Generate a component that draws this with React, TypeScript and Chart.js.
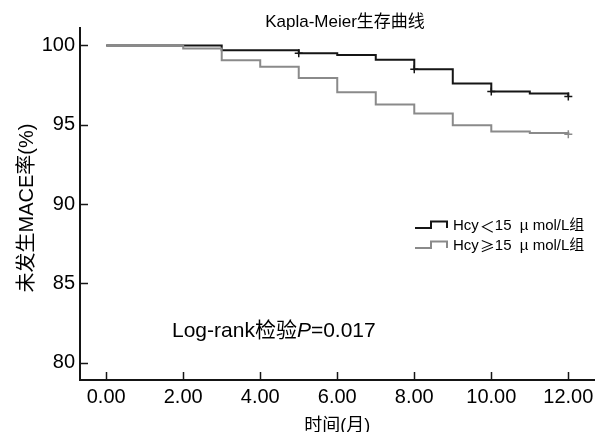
import React, { useEffect, useRef } from "react";
import { Chart, registerables } from "chart.js";

Chart.register(...registerables);

// ---- data ----
const titleText = "Kapla-Meier生存曲线";
const xTitle = "时间(月)";
const yTitle = "未发生MACE率(%)";
// legend pieces: [prefix, comparison symbol, suffix]
const groupPrefix = ["Hcy", "Hcy"];
const groupSymbol = ["＜", "≥"];
const groupSuffix = ["15  µ mol/L组", "15  µ mol/L组"];

const xTicks = [0, 2, 4, 6, 8, 10, 12];
const yTicks = [80, 85, 90, 95, 100];

// survival value holding from each time onward (step function)
const lowHcyTimes = [0, 3, 5, 6, 7, 8, 9, 10, 11, 12];
const lowHcySurvival = [100, 99.7, 99.5, 99.4, 99.1, 98.5, 97.6, 97.1, 96.97, 96.78];
const highHcyTimes = [0, 2, 3, 4, 5, 6, 7, 8, 9, 10, 11, 12];
const highHcySurvival = [100, 99.8, 99.07, 98.65, 97.95, 97.05, 96.27, 95.7, 94.96, 94.58, 94.47, 94.4];

const lowHcyCensorTimes = [5, 8, 10, 12];
const highHcyCensorTimes = [12];

const logRankPrefix = "Log-rank检验";
const logRankP = "P";
const logRankValue = "=0.017";

const FONT = '"Liberation Sans", "Noto Sans CJK SC", sans-serif';
const CJK = '"Noto Sans CJK SC", sans-serif';
const BLACK = "#151515";
const GRAY = "#8a8a8a";

function stepValue(times: number[], vals: number[], t: number) {
  let v = vals[0];
  for (let i = 0; i < times.length; i++) if (times[i] <= t) v = vals[i];
  return v;
}

const overlayPlugin = {
  id: "kmOverlay",
  afterDraw(chart: any) {
    const { ctx, chartArea } = chart;
    const xs = chart.scales.x;
    const ys = chart.scales.y;
    ctx.save();
    // inward tick marks
    ctx.strokeStyle = BLACK;
    ctx.lineWidth = 1.5;
    yTicks.forEach((v) => {
      const py = Math.round(ys.getPixelForValue(v)) + 0.5;
      ctx.beginPath();
      ctx.moveTo(chartArea.left, py);
      ctx.lineTo(chartArea.left + 8, py);
      ctx.stroke();
    });
    xTicks.forEach((v) => {
      const px = Math.round(xs.getPixelForValue(v)) + 0.5;
      ctx.beginPath();
      ctx.moveTo(px, chartArea.bottom);
      ctx.lineTo(px, chartArea.bottom - 8);
      ctx.stroke();
    });

    ctx.fillStyle = "#000";
    // title
    ctx.font = `17px ${FONT}`;
    ctx.textAlign = "center";
    ctx.textBaseline = "middle";
    ctx.fillText(titleText, 345, 22);

    // x axis title
    ctx.font = `18px ${FONT}`;
    ctx.fillText(xTitle, (chartArea.left + chartArea.right) / 2, 426);

    // y axis title
    ctx.save();
    ctx.translate(27, 208);
    ctx.rotate(-Math.PI / 2);
    ctx.font = `20px ${FONT}`;
    ctx.fillText(yTitle, 0, 0);
    ctx.restore();

    // log-rank annotation
    ctx.textAlign = "left";
    ctx.font = `21px ${FONT}`;
    let ax = 172;
    const ay = 331;
    ctx.fillText(logRankPrefix, ax, ay);
    ax += ctx.measureText(logRankPrefix).width;
    ctx.font = `italic 21px ${FONT}`;
    ctx.fillText(logRankP, ax, ay);
    ax += ctx.measureText(logRankP).width;
    ctx.font = `21px ${FONT}`;
    ctx.fillText(logRankValue, ax, ay);

    // legend
    const colors = [BLACK, GRAY];
    groupPrefix.forEach((pre, i) => {
      const base = 228 + i * 20;
      ctx.strokeStyle = colors[i];
      ctx.lineWidth = 2;
      ctx.beginPath();
      ctx.moveTo(415, base);
      ctx.lineTo(431, base);
      ctx.lineTo(431, base - 6.5);
      ctx.lineTo(447, base - 6.5);
      ctx.lineTo(447, base);
      ctx.stroke();
      ctx.fillStyle = "#000";
      let lx = 453;
      const ly = base - 2;
      ctx.font = `15px ${FONT}`;
      ctx.fillText(pre, lx, ly);
      lx += ctx.measureText(pre).width + 1;
      ctx.font = `15px ${CJK}`;
      ctx.fillText(groupSymbol[i], lx, ly);
      lx += ctx.measureText(groupSymbol[i]).width;
      ctx.font = `15px ${FONT}`;
      ctx.fillText(groupSuffix[i], lx, ly);
    });
    ctx.restore();
  },
};

export default function App() {
  const ref = useRef<HTMLCanvasElement | null>(null);
  useEffect(() => {
    if (!ref.current) return;
    const lowPts = lowHcyTimes.map((t, i) => ({ x: t, y: lowHcySurvival[i] }));
    const highPts = highHcyTimes.map((t, i) => ({ x: t, y: highHcySurvival[i] }));
    const lowCens = lowHcyCensorTimes.map((t) => ({ x: t, y: stepValue(lowHcyTimes, lowHcySurvival, t) }));
    const highCens = highHcyCensorTimes.map((t) => ({ x: t, y: stepValue(highHcyTimes, highHcySurvival, t) }));

    const chart = new Chart(ref.current, {
      type: "line",
      data: {
        datasets: [
          {
            label: "high",
            data: highPts,
            stepped: "before",
            borderColor: GRAY,
            borderWidth: 2,
            pointRadius: 0,
            fill: false,
            order: 0,
          },
          {
            label: "low",
            data: lowPts,
            stepped: "before",
            borderColor: BLACK,
            borderWidth: 2,
            pointRadius: 0,
            fill: false,
            order: 1,
          },
          {
            label: "censor-low",
            data: lowCens,
            showLine: false,
            pointStyle: "cross",
            pointRadius: 4,
            borderColor: BLACK,
            borderWidth: 1.5,
            order: 2,
          },
          {
            label: "censor-high",
            data: highCens,
            showLine: false,
            pointStyle: "cross",
            pointRadius: 4,
            borderColor: GRAY,
            borderWidth: 1.5,
            order: 2,
          },
        ],
      },
      options: {
        responsive: false,
        animation: false,
        events: [],
        layout: { padding: { top: 28, right: 1, left: 0, bottom: 0 } },
        plugins: {
          legend: { display: false },
          title: { display: false },
          tooltip: { enabled: false },
        },
        scales: {
          x: {
            type: "linear",
            min: -0.68,
            max: 12.68,
            afterFit: (s: any) => {
              s.height = 52;
            },
            afterBuildTicks: (s: any) => {
              s.ticks = xTicks.map((v) => ({ value: v }));
            },
            grid: { display: false, drawTicks: false },
            border: { display: true, color: BLACK, width: 2 },
            ticks: {
              padding: 5,
              color: "#000",
              font: { family: FONT, size: 20 },
              maxRotation: 0,
              callback: (v: any) => Number(v).toFixed(2),
            },
          },
          y: {
            type: "linear",
            min: 78.9,
            max: 101.1,
            afterFit: (s: any) => {
              s.width = 80;
            },
            afterBuildTicks: (s: any) => {
              s.ticks = yTicks.map((v) => ({ value: v }));
            },
            grid: { display: false, drawTicks: false },
            border: { display: true, color: BLACK, width: 2 },
            ticks: {
              padding: 5,
              color: "#000",
              font: { family: FONT, size: 20 },
              callback: (v: any) => String(v),
            },
          },
        },
      },
      plugins: [overlayPlugin],
    } as any);
    return () => chart.destroy();
  }, []);

  return (
    <div style={{ position: "absolute", left: 0, top: 0, width: 600, height: 432, background: "#fff" }}>
      <canvas ref={ref} width={600} height={432} style={{ display: "block" }} />
    </div>
  );
}
